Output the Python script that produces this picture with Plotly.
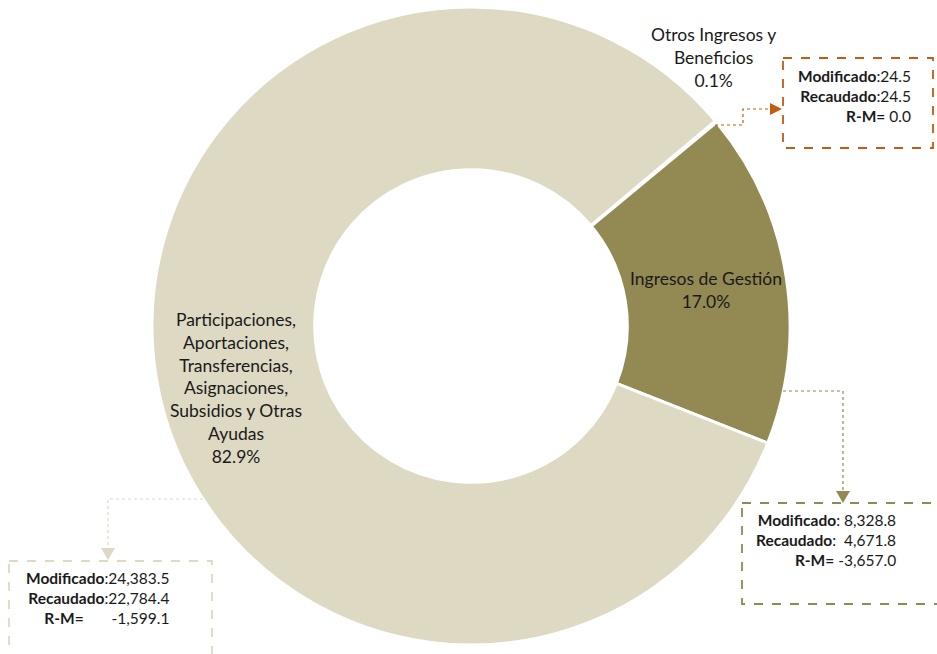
import plotly.graph_objects as go

W, H = 937, 654

labels = ["Otros Ingresos y<br>Beneficios", "Ingresos de Gestión",
          "Participaciones,<br>Aportaciones,<br>Transferencias,<br>Asignaciones,<br>Subsidios y Otras<br>Ayudas"]
modificado = [24.5, 8328.8, 24383.5]
recaudado = [24.5, 4671.8, 22784.4]
colors = ["#C55A11", "#938953", "#DDD9C3"]

total = sum(recaudado)
pct = [v / total * 100 for v in recaudado]


def px(x):
    return x / W


def py(y):
    return 1 - y / H


fig = go.Figure(go.Pie(
    labels=labels, values=recaudado, sort=False, direction="clockwise",
    rotation=50, hole=0.49, textinfo="none", hoverinfo="label+percent",
    marker=dict(colors=colors, line=dict(color="white", width=3)),
    domain=dict(x=[px(471 - 319), px(471 + 319)], y=[py(326 + 319), py(326 - 319)]),
    showlegend=False,
))

font = dict(family="Lato, Roboto, sans-serif", size=17.5, color="#1a1a1a")
# slice labels
lab_pos = [(713, 58), (706, 290), (236, 388)]
for lab, p, (x, y) in zip(labels, pct, lab_pos):
    fig.add_annotation(x=px(x), y=py(y), xref="paper", yref="paper", showarrow=False,
                       xanchor="center", yanchor="middle",
                       text=f"{lab}<br>{p:.1f}%", font=font, align="center")

# callout boxes
boxes = [
    dict(rect=(783, 58, 933, 148), color="#C55A11", text_xy=(913, 96), gap="",
         path=[(715, 125), (743, 125), (743, 109), (770, 109)], dirn="right"),
    dict(rect=(742, 503, 945, 604), color="#938953", text_xy=(898, 540), gap=" ",
         path=[(783, 391), (843, 391), (843, 491)], dirn="down"),
    dict(rect=(9, 561, 212, 670), color="#DDD9C3", text_xy=(171, 598), gap="",
         path=[(215, 499), (108, 499), (108, 548)], dirn="down"),
]
for b, m, r in zip(boxes, modificado, recaudado):
    x0, y0, x1, y1 = b["rect"]
    fig.add_shape(type="rect", xref="paper", yref="paper", x0=px(x0), y0=py(y0), x1=px(x1), y1=py(y1),
                  line=dict(color=b["color"], width=1.8, dash="dash"), fillcolor="rgba(0,0,0,0)")
    pts = b["path"]
    d = "M " + " L ".join(f"{px(x)},{py(y)}" for x, y in pts)
    fig.add_shape(type="path", xref="paper", yref="paper", path=d,
                  line=dict(color=b["color"], width=1.2, dash="dot"))
    tx, ty = pts[-1]
    if b["dirn"] == "right":
        tri = [(tx, ty - 6), (tx + 12, ty), (tx, ty + 6)]
    else:
        tri = [(tx - 7, ty), (tx, ty + 12), (tx + 7, ty)]
    d = "M " + " L ".join(f"{px(x)},{py(y)}" for x, y in tri) + " Z"
    fig.add_shape(type="path", xref="paper", yref="paper", path=d,
                  line=dict(color=b["color"], width=0), fillcolor=b["color"])
    rm_txt = f"{r - m:,.1f}"
    if x0 < 100:
        rm_line = f"<b>R-M=</b>&nbsp;&nbsp;&nbsp;&nbsp;&nbsp;&nbsp; {rm_txt}"
    else:
        rm_line = f"<b>R-M=</b> {rm_txt}"
    if b["gap"]:
        txt = f"<b>Modificado</b>: {m:,.1f}<br><b>Recaudado</b>:&nbsp; {r:,.1f}<br>{rm_line}"
    else:
        txt = f"<b>Modificado</b>:{m:,.1f}<br><b>Recaudado</b>:{r:,.1f}<br>{rm_line}"
    fig.add_annotation(x=px(b["text_xy"][0]), y=py(b["text_xy"][1]), xref="paper", yref="paper",
                       xanchor="right", yanchor="middle", showarrow=False, align="right", text=txt,
                       font=dict(family="Lato, Roboto, sans-serif", size=15.5, color="#1a1a1a"))

fig.update_layout(width=W, height=H, margin=dict(l=0, r=0, t=0, b=0),
                  paper_bgcolor="white", plot_bgcolor="white")
fig.write_html("out.html", config={"displayModeBar": False},
               post_script="document.body.style.margin='0';")
